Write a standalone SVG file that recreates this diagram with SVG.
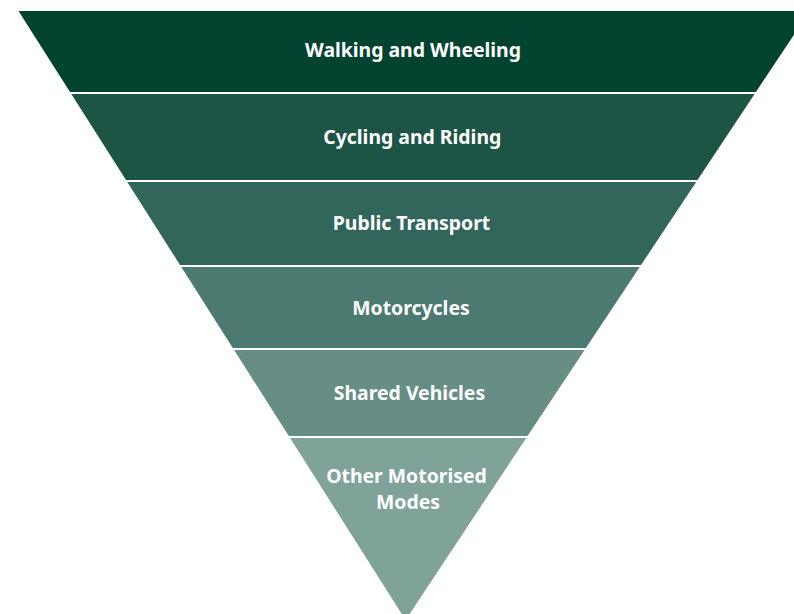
<svg xmlns="http://www.w3.org/2000/svg" width="794" height="614" viewBox="0 0 794 614">
<style>
.lbl{font-family:"Noto Sans","Lato",sans-serif;font-weight:bold;font-size:19.4px;fill:#ffffff;text-anchor:middle}
</style>
<rect width="794" height="614" fill="#ffffff"/>
<g id="band1"><polygon points="18.5,11 809.7,11 755.9,92 70,92" fill="#02432F"/><text class="lbl" x="413" y="57">Walking and Wheeling</text></g>
<g id="band2"><polygon points="71.3,94 754.6,94 697.5,180 126,180" fill="#1C5446"/><text class="lbl" x="412.3" y="144">Cycling and Riding</text></g>
<g id="band3"><polygon points="127.3,182 696.2,182 641,265 180,265" fill="#33665A"/><text class="lbl" x="411.5" y="230">Public Transport</text></g>
<g id="band4"><polygon points="181.3,267 639.7,267 585.9,348 232.8,348" fill="#4D7A70"/><text class="lbl" x="411" y="315">Motorcycles</text></g>
<g id="band5"><polygon points="234.1,350 584.6,350 527.5,436 288.8,436" fill="#668E84"/><text class="lbl" x="409.5" y="400">Shared Vehicles</text></g>
<g id="band6"><polygon points="290.1,438 526.2,438 405.6,620" fill="#80A399"/><text class="lbl" x="406.5" y="483">Other Motorised</text><text class="lbl" x="408" y="509">Modes</text></g>
<g id="connectors"></g>
</svg>
